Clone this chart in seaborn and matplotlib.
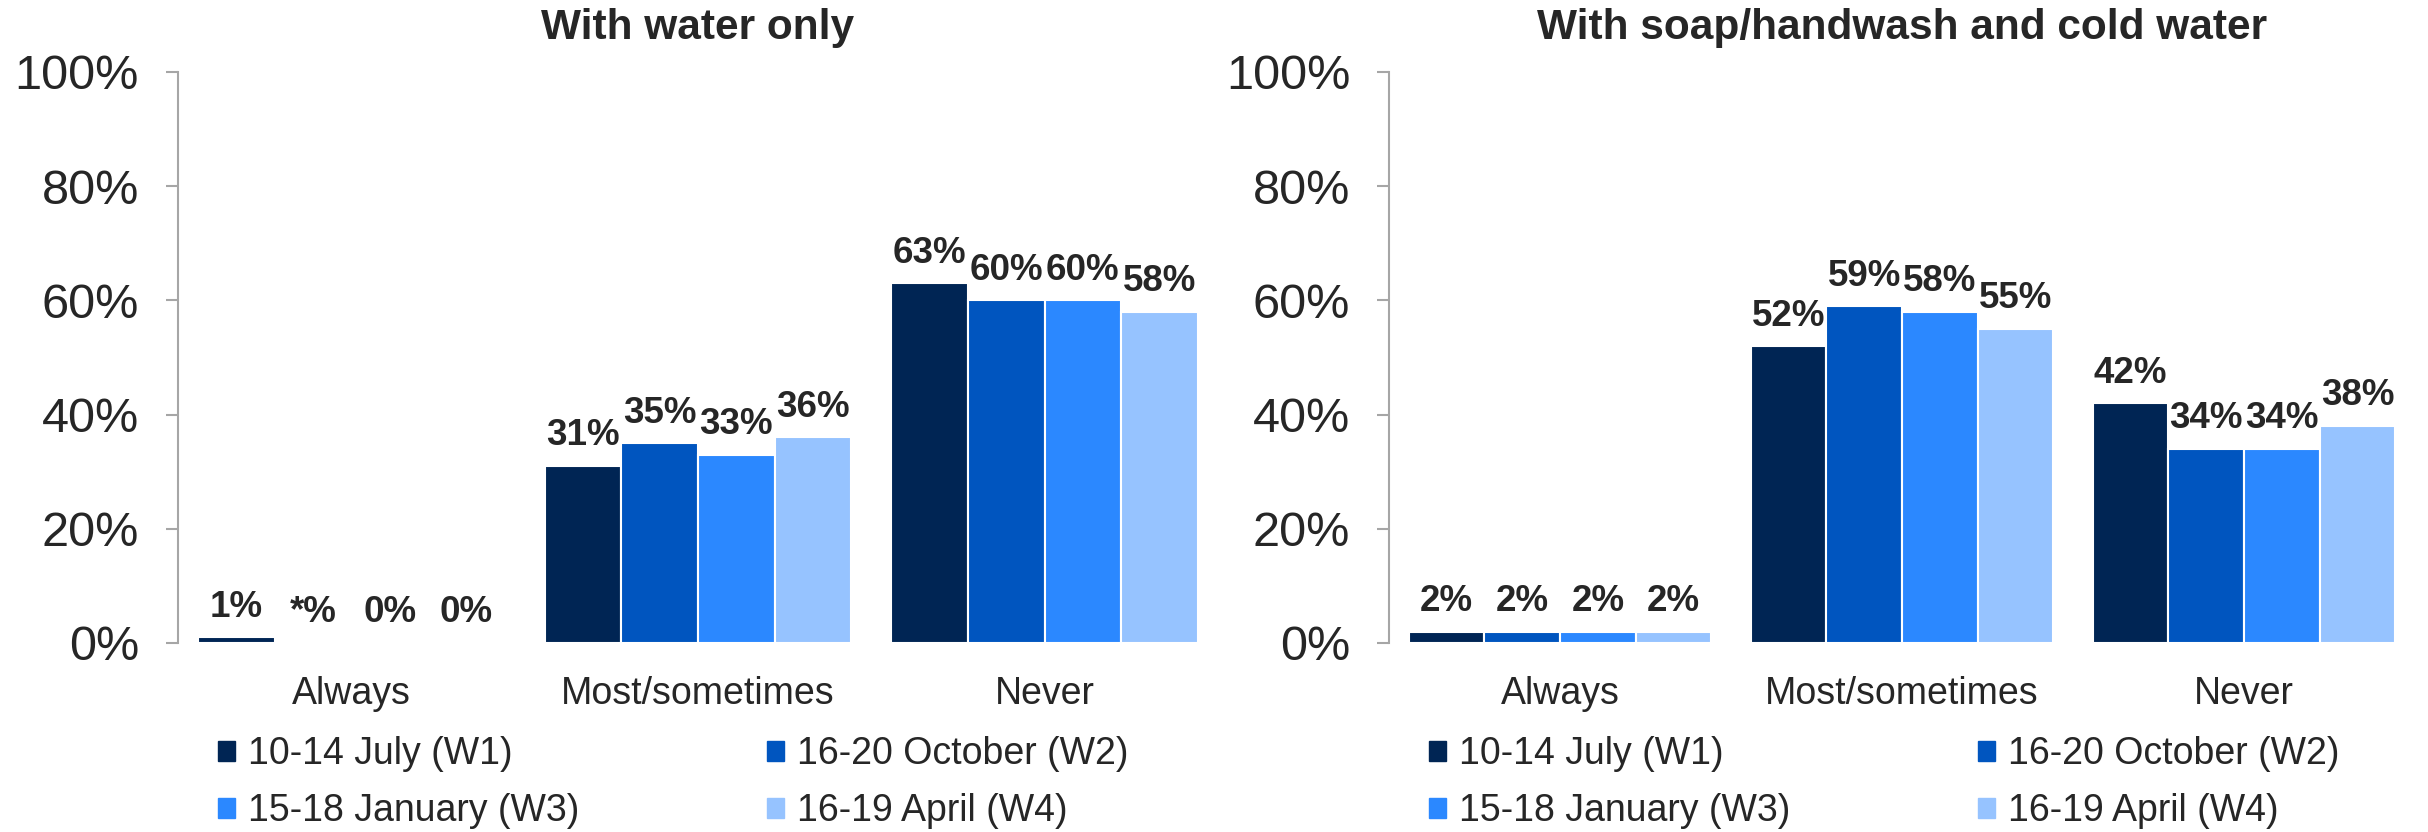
import pandas as pd
import matplotlib.pyplot as plt
import seaborn as sns

categories = ['Always', 'Most/sometimes', 'Never']
waves = ['10-14 July (W1)', '16-20 October (W2)', '15-18 January (W3)', '16-19 April (W4)']
colors = ['#002554', '#0055BF', '#2B88FF', '#96C3FF']

# values per wave, in category order
water_only = {
    '10-14 July (W1)': [1, 31, 63],
    '16-20 October (W2)': [0, 35, 60],
    '15-18 January (W3)': [0, 33, 60],
    '16-19 April (W4)': [0, 36, 58],
}
water_only_labels = {
    '10-14 July (W1)': ['1%', '31%', '63%'],
    '16-20 October (W2)': ['*%', '35%', '60%'],
    '15-18 January (W3)': ['0%', '33%', '60%'],
    '16-19 April (W4)': ['0%', '36%', '58%'],
}
soap_cold = {
    '10-14 July (W1)': [2, 52, 42],
    '16-20 October (W2)': [2, 59, 34],
    '15-18 January (W3)': [2, 58, 34],
    '16-19 April (W4)': [2, 55, 38],
}
titles = ['With water only', 'With soap/handwash and cold water']

sns.set_style('white')
plt.rcParams['font.family'] = ['Liberation Sans', 'DejaVu Sans']
text_col = '#262626'


def to_long(d):
    rows = []
    for w in waves:
        for c, v in zip(categories, d[w]):
            rows.append({'Category': c, 'Wave': w, 'Value': v})
    return pd.DataFrame(rows)


fig = plt.figure(figsize=(24.28, 8.32), dpi=100)
ax1 = fig.add_axes([0.0733, 0.2272, 0.4283, 0.6863])
ax2 = fig.add_axes([0.5721, 0.2272, 0.4226, 0.6863])

panels = [
    (ax1, water_only, water_only_labels, 0.0898),
    (ax2, soap_cold, {w: [f'{v}%' for v in soap_cold[w]] for w in waves}, 0.5886),
]

# legend is filled row-wise in the original
leg_order = [0, 2, 1, 3]

for i, (ax, data, labels, leg_x) in enumerate(panels):
    df = to_long(data)
    sns.barplot(data=df, x='Category', y='Value', hue='Wave', order=categories,
                hue_order=waves, palette=colors, saturation=1, width=0.885,
                edgecolor='white', linewidth=1.5, ax=ax, legend=True)
    for cont, w in zip(ax.containers, waves):
        for bar, lab in zip(cont, labels[w]):
            ax.annotate(lab, (bar.get_x() + bar.get_width() / 2, bar.get_height()),
                        xytext=(0, 9), textcoords='offset points', ha='center',
                        va='bottom', fontsize=26.5, fontweight='bold', color=text_col)
    ax.set_ylim(0, 100)
    ax.set_xlim(-0.5, 2.5)
    ax.set_yticks([0, 20, 40, 60, 80, 100])
    ax.set_yticklabels([f'{t}%' for t in [0, 20, 40, 60, 80, 100]])
    ax.set_xlabel('')
    ax.set_ylabel('')
    for s in ['top', 'right', 'bottom']:
        ax.spines[s].set_visible(False)
    ax.spines['left'].set_color('#A6A6A6')
    ax.spines['left'].set_linewidth(1.5)
    ax.tick_params(axis='y', left=True, length=9, width=1.5, color='#A6A6A6',
                   pad=19, labelsize=35, labelcolor=text_col)
    ax.tick_params(axis='x', bottom=False, pad=20, labelsize=27, labelcolor=text_col)
    ax.set_title(titles[i], fontsize=30.5, fontweight='bold', color=text_col,
                 y=1.0575, pad=0)
    ax.get_legend().remove()
    handles = [plt.Rectangle((0, 0), 1, 1, color=c) for c in colors]
    fig.legend([handles[k] for k in leg_order], [waves[k] for k in leg_order],
               loc='upper left', bbox_to_anchor=(leg_x, 0.115),
               ncol=2, frameon=False, fontsize=27, handlelength=0.45,
               handleheight=0.45, handletextpad=0.35, columnspacing=5.0,
               labelspacing=0.55, borderpad=0, borderaxespad=0,
               labelcolor=text_col)

fig.savefig('out.png', dpi=100)
